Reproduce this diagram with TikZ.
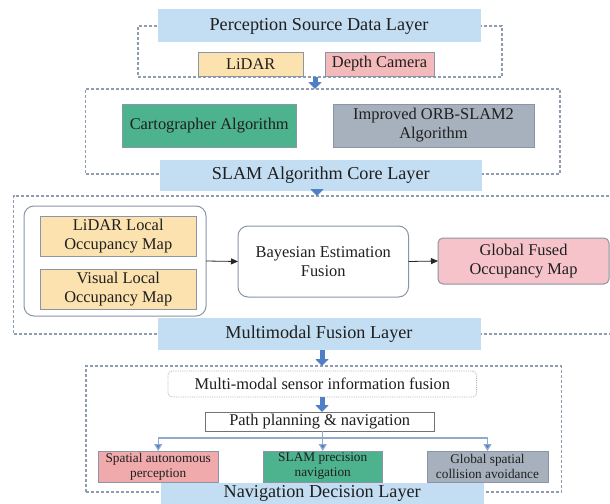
\documentclass[tikz,border=0pt]{standalone}
\usepackage{fontspec}
\setmainfont{Liberation Serif}
\usetikzlibrary{arrows.meta,positioning}
\definecolor{titlebg}{HTML}{C3DEF2}
\definecolor{dashcol}{HTML}{8E9DB2}
\definecolor{lidarbg}{HTML}{FBE2AE}
\definecolor{pinkbg}{HTML}{F4B9BA}
\definecolor{greenbg}{HTML}{4DB28E}
\definecolor{greybg}{HTML}{A6B1BD}
\definecolor{globbg}{HTML}{F5C3C9}
\definecolor{sapbg}{HTML}{F1AAAB}
\definecolor{bordercol}{HTML}{8A96A6}
\definecolor{arrowblue}{HTML}{4F80C6}
\definecolor{branchcol}{HTML}{8FA9CF}
\tikzset{
  every node/.style={inner sep=0pt, outer sep=0pt, align=center, text=black!88},
  layertitle/.style={fill=titlebg, draw=none, font=\fontsize{18.2}{20}\selectfont},
  layerbox/.style={draw=dashcol, line width=1.1pt, dash pattern=on 3pt off 2pt},
  colbox/.style={draw=bordercol, line width=0.8pt, font=\fontsize{16.4}{19}\selectfont},
  smallbox/.style={draw=bordercol, line width=0.8pt, font=\fontsize{13.3}{15}\selectfont},
  roundbox/.style={draw=bordercol, line width=1pt, rounded corners=10pt, fill=white, font=\fontsize{16.4}{19}\selectfont},
  blk/.style={arrowblue, line width=5pt, -{Triangle[width=13pt,length=7pt]}},
  blkline/.style={black!85, line width=0.8pt, -{Triangle[width=6pt,length=7pt]}},
  branch/.style={branchcol, line width=1.2pt},
  branchar/.style={branchcol, line width=1.2pt, -{Triangle[width=8pt,length=7pt,fill=arrowblue]}},
}
\begin{document}
\begin{tikzpicture}[x=1pt,y=-1pt]
\useasboundingbox (0,0) rectangle (610,503);
\clip (0,0) rectangle (610,503);
\fill[white] (0,0) rectangle (610,503);

% ---- layer boxes (dashed) ----
\node[layerbox, minimum width=364pt, minimum height=51pt] (layer1) at (320,51.5) {};
\node[layerbox, minimum width=474.4pt, minimum height=85pt] (layer2) at (322.8,131.5) {};
\node[layerbox, minimum width=601.4pt, minimum height=138pt] (layer3) at (314.3,265) {};
\node[layerbox, minimum width=475.5pt, minimum height=126pt] (layer4) at (323.75,429) {};

% ---- layer 1 ----
\node[layertitle, minimum width=323pt, minimum height=33pt] (ptitle) at (319,26) {Perception Source Data Layer};
\node[colbox, fill=lidarbg, minimum width=105.5pt, minimum height=24pt] (lidar) at (250.75,64) {LiDAR};
\node[colbox, fill=pinkbg, minimum width=109pt, minimum height=24pt] (depth) at (379.5,64) {Depth Camera};

% ---- layer 2 ----
\node[colbox, fill=greenbg, minimum width=174.5pt, minimum height=43pt] (carto) at (209.25,125.5) {Cartographer Algorithm};
\node[colbox, fill=greybg, minimum width=201pt, minimum height=43pt] (orb) at (433.5,125.5) {Improved ORB-SLAM2\\Algorithm};
\node[layertitle, minimum width=322.5pt, minimum height=31pt] (stitle) at (320.75,175.3) {SLAM Algorithm Core Layer};

% ---- layer 3 ----
\node[roundbox, minimum width=182pt, minimum height=110pt] (local) at (115,261) {};
\node[colbox, fill=lidarbg, minimum width=156.5pt, minimum height=40.7pt] (llocal) at (118.25,236.3) {LiDAR Local\\Occupancy Map};
\node[colbox, fill=lidarbg, minimum width=156.5pt, minimum height=40pt] (vlocal) at (118.25,289) {Visual Local\\Occupancy Map};
\node[roundbox, minimum width=170.5pt, minimum height=71pt] (bayes) at (323.25,261.5) {Bayesian Estimation\\Fusion};
\node[roundbox, rounded corners=5pt, fill=globbg, minimum width=171pt, minimum height=46pt] (glob) at (523.5,261) {Global Fused\\Occupancy Map};
\node[layertitle, minimum width=323pt, minimum height=32pt] (mtitle) at (319,334) {Multimodal Fusion Layer};
\draw[blkline] (local.east) -- (bayes.west);
\draw[blkline] (bayes.east) -- (glob.west);

% ---- layer 4 ----
\node[draw=black!30, densely dotted, line width=0.8pt, rounded corners=4pt, minimum width=308.6pt, minimum height=26pt, font=\fontsize{16.4}{19}\selectfont] (mmsf) at (322.3,384) {Multi-modal sensor information fusion};
\node[draw=black!55, line width=0.8pt, fill=white, minimum width=228.5pt, minimum height=19pt, font=\fontsize{16.4}{19}\selectfont] (path) at (319.75,421.5) {Path planning \& navigation};
\node[smallbox, fill=sapbg, minimum width=119.6pt, minimum height=31pt] (sap) at (158.2,466.5) {Spatial autonomous\\perception};
\node[smallbox, fill=greenbg, minimum width=119.5pt, minimum height=31pt] (slamnav) at (322.75,466.5) {SLAM precision\\navigation};
\node[smallbox, fill=greybg, minimum width=121pt, minimum height=31pt] (gsca) at (487.5,466.5) {Global spatial\\collision avoidance};
\node[layertitle, minimum width=323pt, minimum height=34pt, text depth=0pt] (ntitle) at (322.2,500) {};
\node[font=\fontsize{18.2}{20}\selectfont] (ntext) at (322.2,493.5) {Navigation Decision Layer};

% branches
\coordinate (br) at (322,438);
\draw[branch] (sap.north |- br) -- (gsca.north |- br);
\draw[branchar] (sap.north |- br) -- (sap.north);
\draw[branchar] (gsca.north |- br) -- (gsca.north);
\draw[branchar] (slamnav.north |- path.south) -- (slamnav.north);

% ---- block arrows between layers ----
\coordinate (a1) at (315,77);
\draw[blk] (a1) -- (a1 |- layer2.north);
\coordinate (a2) at (317,190.5);
\draw[blk] (a2) -- (a2 |- layer3.north);
\coordinate (a3) at (322,350);
\draw[blk] (a3) -- (a3 |- layer4.north);
\draw[blk] (mmsf.south -| a3) -- (path.north -| a3);
\end{tikzpicture}
\end{document}
